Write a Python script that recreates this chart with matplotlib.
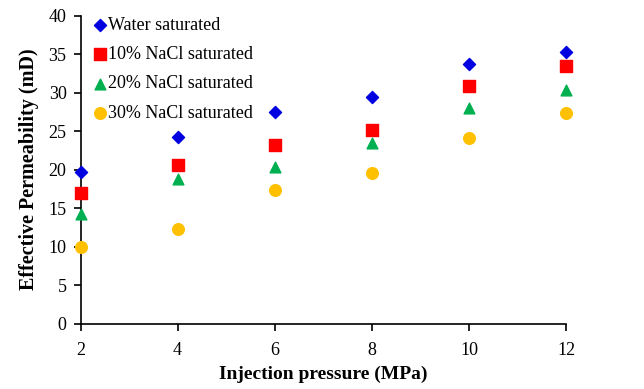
import matplotlib
matplotlib.use("Agg")
import matplotlib.pyplot as plt

plt.rcParams['font.family'] = ['Liberation Serif', 'DejaVu Serif']

pressure = [2, 4, 6, 8, 10, 12]
water = [19.7, 24.2, 27.5, 29.4, 33.7, 35.3]
nacl10 = [17.0, 20.6, 23.2, 25.1, 30.9, 33.4]
nacl20 = [14.2, 18.8, 20.4, 23.4, 28.0, 30.3]
nacl30 = [9.9, 12.3, 17.3, 19.5, 24.1, 27.4]

labels = ['Water saturated', '10% NaCl saturated', '20% NaCl saturated', '30% NaCl saturated']

fig = plt.figure(figsize=(6.44, 3.89), dpi=100)
ax = fig.add_axes([0.125, 0.168, 0.754, 0.792])

ax.scatter(pressure, water, marker='D', s=38, color='#0000E0', label=labels[0], zorder=3, clip_on=False)
ax.scatter(pressure, nacl10, marker='s', s=70, color='#FF0000', label=labels[1], zorder=3, clip_on=False)
ax.scatter(pressure, nacl20, marker='^', s=60, color='#00B050', label=labels[2], zorder=3, clip_on=False)
ax.scatter(pressure, nacl30, marker='o', s=70, color='#FFC000', label=labels[3], zorder=3, clip_on=False)

ax.set_xlim(2, 12)
ax.set_ylim(0, 40)
ax.set_xticks([2, 4, 6, 8, 10, 12])
ax.set_yticks(range(0, 41, 5))
ax.spines['top'].set_visible(False)
ax.spines['right'].set_visible(False)
ax.spines['left'].set_linewidth(1.2)
ax.spines['bottom'].set_linewidth(1.2)
ax.tick_params(direction='out', length=5, width=1.2, labelsize=13)
ax.tick_params(axis='x', pad=8)
ax.tick_params(axis='y', pad=5)

ax.set_xlabel('Injection pressure (MPa)', fontsize=14, fontweight='bold', labelpad=5)
ax.set_ylabel('Effective Permeability (mD)', fontsize=14.5, fontweight='bold', labelpad=7)

ax.legend(loc='upper left', frameon=False, fontsize=13, handletextpad=-0.2,
          labelspacing=0.68, borderaxespad=0.1, handlelength=1.2,
          bbox_to_anchor=(0.0, 1.025), scatterpoints=1)

fig.savefig('out.png', dpi=100)
